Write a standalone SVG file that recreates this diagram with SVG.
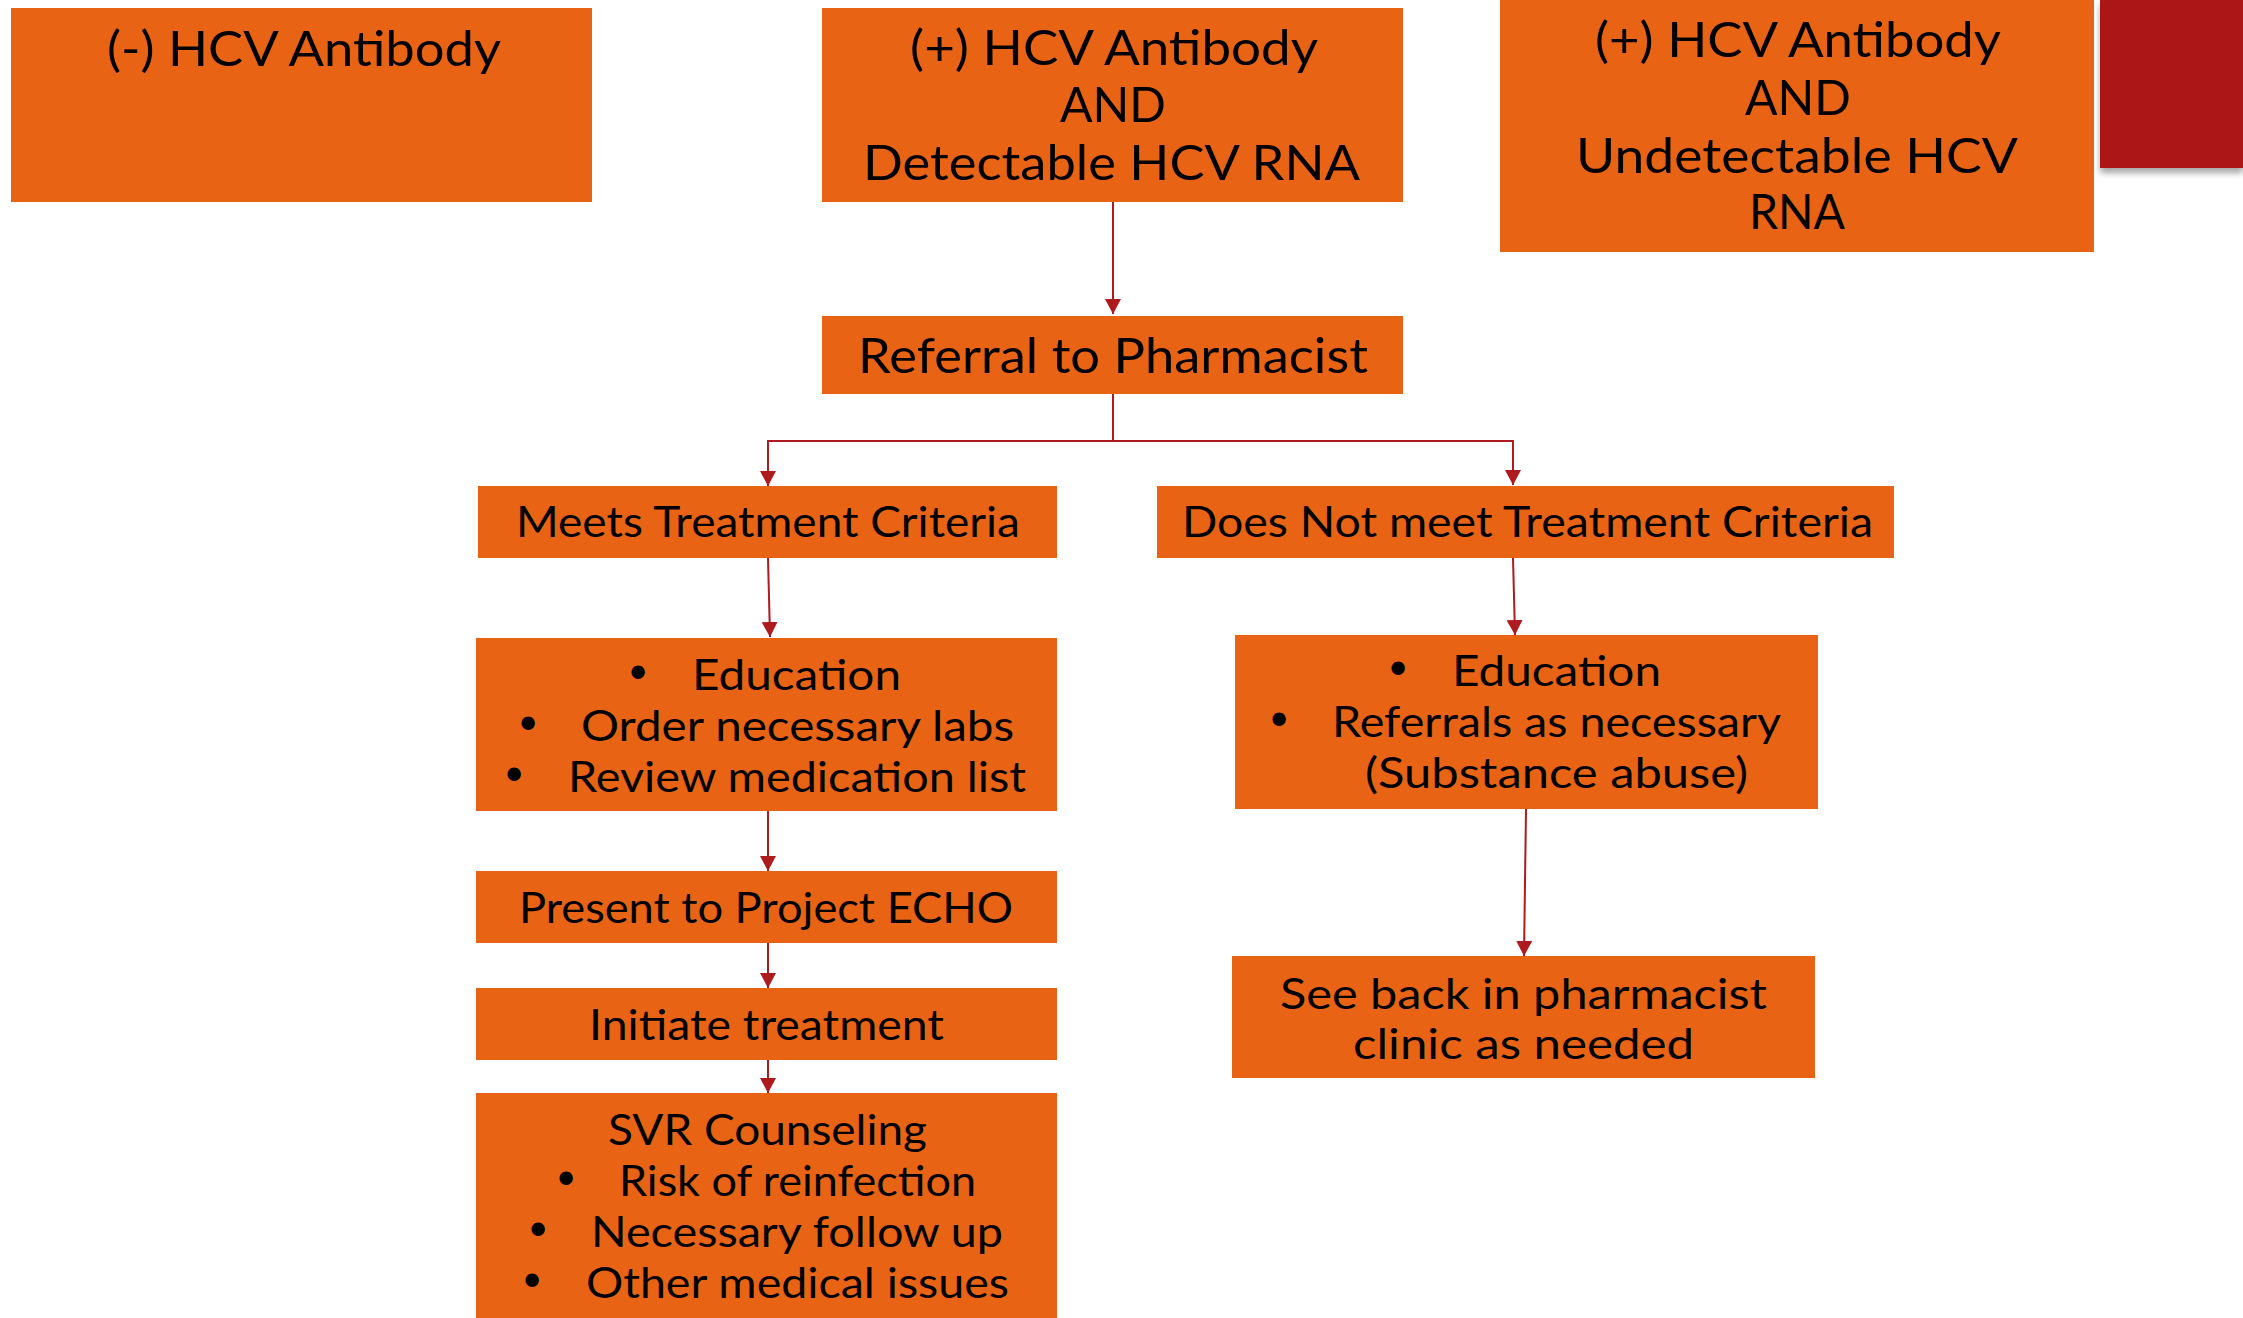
<svg xmlns="http://www.w3.org/2000/svg" width="2243" height="1318" viewBox="0 0 2243 1318">
<style>
.box{fill:#E96314}
.t{font-family:Lato,"DejaVu Sans",sans-serif;fill:#000;font-size:42px}
.big{font-size:48px}
.b{font-family:"DejaVu Sans",sans-serif;font-size:46px;text-anchor:middle}
.c{stroke:#AE1A1E;stroke-width:2;fill:none}
</style>
<defs>
<marker id="ah" markerUnits="userSpaceOnUse" markerWidth="16" markerHeight="16" viewBox="0 0 16 16" refX="15" refY="8" orient="auto">
<path d="M0,0 L15,8 L0,16 Z" fill="#AE1A1E"/>
</marker>
<filter id="sh" x="-10%" y="-10%" width="130%" height="130%">
<feDropShadow dx="0" dy="5" stdDeviation="3" flood-color="#000" flood-opacity="0.35"/>
</filter>
</defs>
<rect x="2100" y="0" width="143" height="168" fill="#AD1515" filter="url(#sh)"/>
<g id="connectors">
<line class="c" x1="1113" y1="202" x2="1113" y2="314" marker-end="url(#ah)"/>
<polyline class="c" points="1113,394 1113,441 768,441 768,486" marker-end="url(#ah)"/>
<polyline class="c" points="1113,441 1513,441 1513,485" marker-end="url(#ah)"/>
<line class="c" x1="768" y1="558" x2="770" y2="637" marker-end="url(#ah)"/>
<line class="c" x1="1513" y1="558" x2="1515" y2="635" marker-end="url(#ah)"/>
<line class="c" x1="1526" y1="809" x2="1524" y2="956" marker-end="url(#ah)"/>
<line class="c" x1="768" y1="811" x2="768" y2="871" marker-end="url(#ah)"/>
<line class="c" x1="768" y1="943" x2="768" y2="988" marker-end="url(#ah)"/>
<line class="c" x1="768" y1="1060" x2="768" y2="1093" marker-end="url(#ah)"/>
</g>
<g id="neg">
<rect class="box" x="11" y="8" width="581" height="194"/>
<text class="t big" x="107" y="66" textLength="394" lengthAdjust="spacingAndGlyphs">(-) HCV Antibody</text>
</g>
<g id="posdet">
<rect class="box" x="822" y="8" width="581" height="194"/>
<text class="t big" x="910" y="65" textLength="408" lengthAdjust="spacingAndGlyphs">(+) HCV Antibody</text>
<text class="t big" x="1060" y="122" textLength="106" lengthAdjust="spacingAndGlyphs">AND</text>
<text class="t big" x="863" y="180" textLength="497" lengthAdjust="spacingAndGlyphs">Detectable HCV RNA</text>
</g>
<g id="posundet">
<rect class="box" x="1500" y="0" width="594" height="252"/>
<text class="t big" x="1595" y="57" textLength="406" lengthAdjust="spacingAndGlyphs">(+) HCV Antibody</text>
<text class="t big" x="1745" y="115" textLength="106" lengthAdjust="spacingAndGlyphs">AND</text>
<text class="t big" x="1576" y="173" textLength="442" lengthAdjust="spacingAndGlyphs">Undetectable HCV</text>
<text class="t big" x="1749" y="229" textLength="96" lengthAdjust="spacingAndGlyphs">RNA</text>
</g>
<g id="referral">
<rect class="box" x="822" y="316" width="581" height="78"/>
<text class="t big" x="858" y="373" textLength="510" lengthAdjust="spacingAndGlyphs">Referral to Pharmacist</text>
</g>
<g id="meets">
<rect class="box" x="478" y="486" width="579" height="72"/>
<text class="t" x="516" y="537" textLength="504" lengthAdjust="spacingAndGlyphs">Meets Treatment Criteria</text>
</g>
<g id="doesnot">
<rect class="box" x="1157" y="486" width="737" height="72"/>
<text class="t" x="1182" y="537" textLength="691" lengthAdjust="spacingAndGlyphs">Does Not meet Treatment Criteria</text>
</g>
<g id="edu-left">
<rect class="box" x="476" y="638" width="581" height="173"/>
<text class="b" x="638" y="690">•</text>
<text class="t" x="692" y="690" textLength="209" lengthAdjust="spacingAndGlyphs">Education</text>
<text class="b" x="528" y="741">•</text>
<text class="t" x="581" y="741" textLength="433" lengthAdjust="spacingAndGlyphs">Order necessary labs</text>
<text class="b" x="514" y="792">•</text>
<text class="t" x="568" y="792" textLength="458" lengthAdjust="spacingAndGlyphs">Review medication list</text>
</g>
<g id="edu-right">
<rect class="box" x="1235" y="635" width="583" height="174"/>
<text class="b" x="1398" y="686">•</text>
<text class="t" x="1452" y="686" textLength="209" lengthAdjust="spacingAndGlyphs">Education</text>
<text class="b" x="1279" y="737">•</text>
<text class="t" x="1332" y="737" textLength="449" lengthAdjust="spacingAndGlyphs">Referrals as necessary</text>
<text class="t" x="1365" y="788" textLength="383" lengthAdjust="spacingAndGlyphs">(Substance abuse)</text>
</g>
<g id="seeback">
<rect class="box" x="1232" y="956" width="583" height="122"/>
<text class="t" x="1280" y="1009" textLength="487" lengthAdjust="spacingAndGlyphs">See back in pharmacist</text>
<text class="t" x="1353" y="1059" textLength="341" lengthAdjust="spacingAndGlyphs">clinic as needed</text>
</g>
<g id="present">
<rect class="box" x="476" y="871" width="581" height="72"/>
<text class="t" x="519" y="923" textLength="494" lengthAdjust="spacingAndGlyphs">Present to Project ECHO</text>
</g>
<g id="initiate">
<rect class="box" x="476" y="988" width="581" height="72"/>
<text class="t" x="589" y="1040" textLength="355" lengthAdjust="spacingAndGlyphs">Initiate treatment</text>
</g>
<g id="svr">
<rect class="box" x="476" y="1093" width="581" height="225"/>
<text class="t" x="608" y="1145" textLength="319" lengthAdjust="spacingAndGlyphs">SVR Counseling</text>
<text class="b" x="566" y="1196">•</text>
<text class="t" x="619" y="1196" textLength="357" lengthAdjust="spacingAndGlyphs">Risk of reinfection</text>
<text class="b" x="538" y="1247">•</text>
<text class="t" x="591" y="1247" textLength="412" lengthAdjust="spacingAndGlyphs">Necessary follow up</text>
<text class="b" x="532" y="1298">•</text>
<text class="t" x="586" y="1298" textLength="423" lengthAdjust="spacingAndGlyphs">Other medical issues</text>
</g>
</svg>
